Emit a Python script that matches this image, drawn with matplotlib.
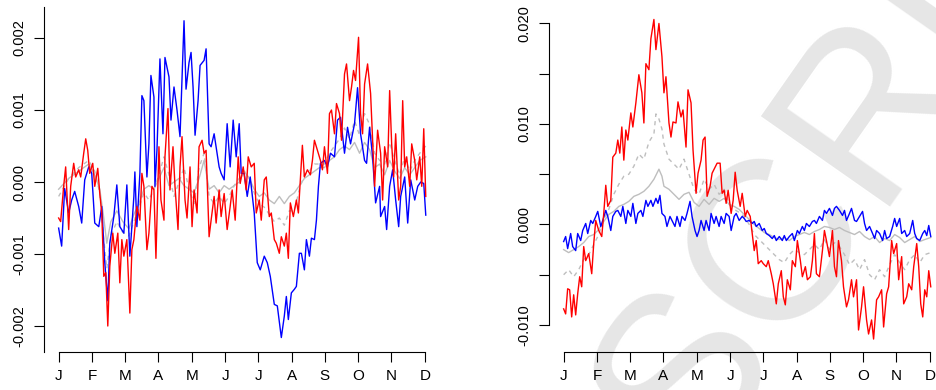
import numpy as np
import matplotlib.pyplot as plt

plt.rcParams['font.family'] = ['Liberation Sans', 'DejaVu Sans']
plt.rcParams['axes.unicode_minus'] = False

months = ["J", "F", "M", "A", "M", "J", "J", "A", "S", "O", "N", "D"]
year_days = 365

# left panel (values in units of 1e-3)
l_blue_d = [0, 3, 6, 10, 13, 16, 20, 23, 26, 30, 33, 36, 40, 43, 46, 49, 51, 55, 58, 61, 65, 68, 71, 75, 76, 78,
            81, 83, 85, 88, 90, 92, 95, 96, 98, 101, 104, 106, 110, 112, 115, 118, 121, 125, 127, 130, 132, 134,
            136, 139, 141, 145, 147, 150, 152, 155, 157, 160, 162, 165, 168, 171, 174, 177, 180, 182, 185, 188,
            191, 195, 198, 201, 205, 208, 211, 215, 218, 222, 225, 227, 229, 232, 235, 237, 240, 242, 245, 247,
            250, 252, 255, 257, 259, 261, 265, 268, 271, 275, 278, 281, 285, 288, 291, 295, 298, 301, 305, 307,
            310, 313, 316, 320, 321, 325, 327, 330, 333, 336, 339, 341, 345, 348, 351, 355, 358, 361, 364, 366]
l_blue_v = [-0.64, -0.89, -0.09, -0.43, -0.25, -0.13, -0.34, -0.57, 0.03, 0.21, 0.12, -0.57, -0.62, -0.34, -1.12,
            -1.65, -0.85, -0.48, -0.04, -0.62, -0.71, -0.04, -1.03, -0.20, 0.14, -0.62, 0.12, 1.20, 1.13, 0.07,
            0.53, 1.48, 1.18, -0.06, 0.44, 1.71, 0.67, 1.73, 1.46, 0.86, 1.32, 1.00, 0.63, 2.24, 1.29, 1.66, 1.80,
            1.32, 0.65, 1.13, 1.62, 1.69, 1.85, 0.53, 0.49, 0.67, 0.49, 0.21, 0.12, 0.03, 0.81, 0.21, 0.86, 0.35,
            0.81, 0.12, 0.12, -0.20, 0.07, -0.43, -1.12, -1.22, -1.03, -1.12, -1.31, -1.70, -1.72, -2.16, -1.86,
            -1.59, -1.91, -1.54, -1.49, -1.45, -0.99, -0.99, -1.22, -0.80, -1.03, -0.78, -0.80, -0.53, -0.06, 0.26,
            0.30, 0.21, 0.40, 0.35, 0.86, 0.90, 0.40, 0.76, 0.53, 0.81, 1.31, 0.67, 0.30, 0.26, 0.76, 0.35, -0.29,
            -0.06, -0.48, -0.34, -0.66, -0.06, 0.17, -0.25, -0.62, -0.20, 0.07, -0.57, 0.03, -0.25, -0.06, 0.00,
            -0.02, -0.46]

l_red_d = [0, 2, 5, 7, 10, 12, 15, 17, 20, 22, 25, 27, 29, 31, 34, 36, 39, 41, 43, 45, 47, 49, 51, 54, 56, 59, 61,
           63, 65, 68, 71, 73, 75, 78, 81, 83, 85, 88, 90, 93, 95, 97, 100, 102, 105, 106, 109, 111, 114, 116, 119,
           121, 123, 126, 128, 131, 133, 135, 138, 140, 143, 145, 147, 150, 152, 155, 157, 160, 162, 165, 168, 171,
           173, 176, 179, 181, 184, 187, 189, 192, 195, 197, 200, 202, 205, 207, 210, 212, 215, 217, 220, 222, 225,
           227, 229, 231, 234, 237, 239, 241, 243, 245, 248, 251, 253, 255, 258, 261, 263, 265, 268, 270, 272, 275,
           277, 280, 282, 285, 287, 290, 292, 294, 296, 299, 301, 303, 305, 308, 311, 313, 315, 318, 321, 323, 325,
           328, 330, 332, 334, 336, 339, 341, 343, 345, 347, 350, 352, 355, 357, 360, 362, 364, 366]
l_red_v = [-0.50, -0.55, -0.06, 0.21, -0.66, -0.06, 0.26, 0.07, 0.17, 0.07, 0.40, 0.60, 0.44, 0.12, 0.26, -0.06,
           0.19, -0.16, -0.43, -1.31, -1.26, -2.00, -1.17, -0.71, -0.99, -0.71, -1.40, -0.80, -1.03, -0.80, -1.82,
           -0.94, -0.80, -0.34, -0.53, 0.12, -0.06, -0.94, -0.71, -0.06, -0.11, -1.06, 0.49, -0.25, -0.53, 0.35,
           1.02, -0.11, 0.49, -0.06, -0.66, 0.21, 0.63, -0.25, -0.50, 0.21, -0.62, -0.11, -0.43, 0.49, 0.58, 0.40,
           0.44, -0.76, -0.53, -0.20, -0.57, -0.11, -0.48, -0.16, -0.66, -0.34, -0.11, -0.53, 0.35, -0.02, 0.21,
           -0.11, 0.35, 0.21, 0.26, -0.43, -0.25, -0.53, 0.03, 0.07, -0.48, -0.43, -0.80, -0.85, -0.99, -0.76,
           -0.89, -0.71, -1.06, -0.29, -0.48, -0.25, -0.43, 0.03, 0.51, 0.07, 0.17, 0.10, 0.30, 0.58, 0.44, 0.30,
           0.17, 0.49, 0.12, 0.95, 1.00, 0.67, 1.09, 0.95, 0.58, 1.50, 1.64, 1.13, 1.32, 1.55, 1.41, 2.01, 0.95,
           0.67, 1.36, 1.64, 1.23, 0.58, -0.06, 0.72, 0.40, -0.25, 0.49, 0.21, 1.27, 0.53, 0.07, 0.67, -0.25, -0.06,
           1.13, 0.21, 0.35, -0.06, 0.53, 0.30, 0.03, 0.35, -0.06, 0.74, -0.20]

l_grey_d = [0, 10, 20, 30, 36, 41, 45, 48, 52, 58, 64, 70, 75, 80, 85, 90, 95, 100, 105, 110, 115, 120, 125, 130,
            135, 140, 145, 150, 155, 160, 165, 170, 175, 180, 185, 190, 195, 200, 205, 210, 215, 220, 225, 230,
            235, 240, 245, 250, 255, 260, 265, 270, 275, 280, 285, 290, 295, 300, 305, 310, 315, 320, 325, 330,
            335, 340, 345, 350, 355, 360, 366]
l_grey_v = [-0.10, 0.05, 0.15, 0.25, 0.10, -0.10, -0.50, -0.85, -0.55, -0.40, -0.55, -0.65, -0.45, -0.30, -0.10,
            -0.05, -0.10, 0.05, 0.20, -0.05, 0.00, 0.05, -0.05, -0.10, -0.15, 0.05, 0.30, -0.10, -0.05, -0.15, -0.05,
            -0.10, -0.05, 0.00, 0.15, 0.05, -0.10, -0.20, -0.15, -0.25, -0.30, -0.20, -0.30, -0.20, -0.15, -0.05,
            0.05, 0.10, 0.15, 0.20, 0.20, 0.30, 0.35, 0.45, 0.50, 0.45, 0.55, 0.40, 0.55, 0.45, 0.20, 0.25, 0.10,
            0.30, 0.15, 0.05, 0.20, 0.10, 0.20, 0.30, 0.35]
l_dash_v = [-0.20, 0.05, 0.20, 0.30, 0.15, -0.15, -0.80, -1.20, -0.75, -0.55, -0.70, -0.75, -0.55, -0.35, -0.15,
            -0.25, -0.10, 0.10, 0.35, 0.10, -0.20, 0.00, 0.20, -0.10, -0.30, 0.20, 0.40, -0.20, -0.30, -0.20, -0.30,
            -0.20, -0.05, 0.05, 0.15, 0.05, -0.15, -0.30, -0.35, -0.45, -0.55, -0.50, -0.60, -0.40, -0.40, -0.10,
            0.10, 0.15, 0.25, 0.25, 0.25, 0.40, 0.50, 0.60, 0.75, 0.60, 0.85, 0.65, 0.95, 0.80, 0.40, 0.30, 0.25,
            0.55, 0.30, 0.10, 0.35, 0.15, 0.30, 0.40, 0.50]

# right panel (values in units of 1e-3)
r_red_d = [0, 2, 4, 6, 8, 10, 12, 14, 16, 18, 20, 22, 25, 28, 30, 32, 35, 38, 40, 42, 44, 47, 49, 52, 54, 56, 58,
           60, 62, 64, 67, 69, 72, 75, 78, 80, 82, 85, 87, 90, 92, 95, 98, 100, 102, 105, 107, 109, 112, 114, 117,
           119, 122, 124, 127, 129, 132, 134, 137, 139, 141, 143, 146, 148, 151, 153, 156, 158, 160, 162, 164, 167,
           169, 171, 173, 176, 178, 181, 183, 186, 188, 190, 192, 194, 197, 199, 202, 204, 207, 209, 212, 214, 217,
           219, 221, 223, 226, 228, 231, 233, 236, 238, 241, 243, 246, 248, 250, 252, 255, 258, 260, 262, 265, 268,
           270, 272, 274, 277, 279, 282, 284, 287, 289, 292, 294, 297, 299, 302, 304, 307, 309, 312, 314, 317, 319,
           322, 324, 327, 329, 332, 334, 337, 339, 342, 344, 347, 349, 352, 354, 356, 358, 360, 362, 364, 366]
r_red_v = [-8.4, -8.9, -6.4, -6.5, -9.2, -7.0, -9.0, -6.9, -5.2, -6.2, -2.2, -3.6, -2.9, -4.9, -1.9, 0.4, -0.6,
           -1.2, 1.1, 3.9, 1.8, 2.4, 6.7, 7.1, 8.4, 7.1, 9.7, 6.4, 9.4, 8.4, 11.1, 9.7, 12.1, 14.9, 13.1, 10.1, 16.0,
           15.4, 18.5, 20.4, 17.4, 20.0, 16.7, 13.1, 14.7, 10.1, 8.7, 10.2, 10.1, 12.2, 10.7, 11.4, 7.7, 13.4, 12.1,
           7.4, 3.1, 5.1, 6.4, 8.4, 8.7, 2.8, 3.8, 5.1, 5.7, 6.1, 6.1, 3.1, 3.4, 2.1, 3.4, 1.1, 2.4, 5.2, 3.4, 1.8,
           3.1, 0.8, 1.4, 0.8, -0.9, -2.6, -1.6, -3.9, -3.6, -3.9, -4.2, -3.6, -4.9, -5.9, -7.9, -5.9, -4.6, -7.2,
           -8.0, -5.5, -6.5, -3.6, -4.2, -1.6, -3.6, -5.2, -4.2, -5.5, -5.2, -3.6, -0.9, -4.9, -5.2, -2.6, -0.6,
           -1.6, -3.2, -0.6, -4.2, -5.2, -1.6, -3.6, -6.2, -8.2, -7.5, -5.5, -7.2, -5.5, -10.5, -8.2, -6.2, -9.5,
           -10.9, -9.5, -11.4, -7.5, -7.2, -6.5, -10.2, -6.9, -6.2, -1.6, -2.9, -1.9, -5.5, -3.2, -7.9, -7.2, -5.9,
           -6.5, -4.2, -1.9, -4.2, -7.9, -9.2, -6.5, -7.2, -4.6, -6.2]

r_blue_d = [0, 2, 4, 7, 9, 12, 14, 17, 19, 22, 24, 27, 29, 32, 34, 37, 39, 42, 44, 47, 49, 52, 54, 57, 59, 62, 64,
            67, 69, 72, 74, 77, 79, 82, 84, 87, 89, 92, 94, 96, 98, 101, 103, 106, 108, 111, 113, 116, 118, 121,
            123, 126, 128, 131, 133, 135, 137, 140, 142, 145, 147, 150, 152, 155, 157, 160, 162, 165, 167, 170, 172,
            175, 178, 180, 182, 185, 188, 190, 192, 195, 198, 200, 202, 205, 208, 210, 212, 215, 218, 220, 222,
            225, 228, 230, 233, 235, 238, 240, 242, 245, 248, 250, 252, 255, 258, 260, 262, 265, 268, 270, 272,
            275, 278, 280, 282, 285, 287, 290, 292, 295, 298, 300, 302, 305, 308, 310, 312, 315, 318, 320, 322,
            325, 328, 330, 332, 335, 337, 340, 342, 345, 348, 350, 352, 355, 358, 360, 362, 364, 366]
r_blue_v = [-1.7, -1.2, -2.4, -0.9, -2.2, -2.6, -0.9, -1.6, -0.6, 0.1, -0.9, 0.4, 0.1, 0.8, 1.3, -0.2, 0.4, 1.4,
            0.8, -0.6, 0.8, 1.3, 1.4, 0.8, 1.8, 0.1, 1.4, 0.8, 2.1, 0.1, 1.1, 1.4, 0.8, 2.4, 1.8, 2.4, 1.8, 2.6, 2.1,
            2.9, 1.1, 0.8, -0.2, 0.8, 0.4, -0.2, 0.8, -0.2, 0.8, 0.4, 1.1, 2.3, 0.8, -0.6, -1.2, -0.6, 0.4, -0.6,
            0.4, -0.6, 1.1, 0.1, 0.8, -0.2, 0.8, 0.1, 1.1, 0.8, -0.6, 0.8, 1.1, 0.4, 0.8, 0.6, 0.3, 0.4, 0.1, 0.3,
            -0.2, 0.1, -0.6, -0.4, -0.9, -1.1, -1.4, -1.1, -1.6, -1.2, -1.6, -1.1, -1.6, -1.2, -0.9, -1.6, -0.6,
            -0.9, -0.2, -0.6, 0.1, -0.2, 0.3, 0.4, 0.1, 0.8, 0.4, 1.4, 1.1, 1.6, 0.9, 1.6, 1.8, 1.4, 0.9, 1.4, 0.4,
            1.1, 1.6, 0.4, 0.3, 0.8, 1.3, 0.1, -0.6, -0.2, -0.9, -1.4, -0.6, -0.9, -1.6, -0.6, -1.4, -1.2, -0.2,
            0.6, -0.2, 0.6, -0.9, -0.6, -1.2, -0.9, 0.4, -0.9, -1.4, -1.6, -0.9, -0.6, -1.1, -0.1, -1.2]

r_grey_d = [0, 5, 10, 15, 20, 25, 30, 35, 40, 45, 50, 55, 60, 65, 70, 75, 80, 85, 90, 95, 98, 100, 105, 110, 115,
            120, 125, 130, 135, 140, 145, 150, 155, 160, 165, 170, 175, 180, 185, 190, 195, 200, 205, 210, 215, 220,
            225, 230, 235, 240, 245, 250, 255, 260, 265, 270, 275, 280, 285, 290, 295, 300, 305, 310, 315, 320,
            325, 330, 335, 340, 345, 350, 355, 360, 366]
r_grey_v = [-2.5, -2.8, -2.5, -2.2, -1.8, -1.2, -1.0, -0.5, 0.3, 1.0, 1.3, 1.8, 2.0, 2.3, 2.8, 3.0, 3.3, 3.8, 4.5,
            5.5, 4.8, 3.8, 3.5, 3.0, 2.5, 3.0, 3.2, 2.2, 1.8, 2.5, 2.0, 2.6, 2.3, 2.6, 2.0, 1.8, 1.5, 1.0, 0.5, 0.0,
            -0.4, -0.8, -1.0, -1.3, -1.5, -1.3, -1.6, -1.2, -1.0, -0.8, -1.0, -0.7, -0.5, -0.2, -0.3, -0.5, -0.3,
            -0.6, -0.8, -1.0, -0.7, -1.2, -1.5, -1.2, -1.8, -1.4, -1.6, -1.0, -1.3, -1.8, -1.5, -1.2, -1.7, -1.5,
            -1.3]

r_dash_d = [0, 5, 10, 15, 20, 25, 30, 35, 40, 45, 50, 55, 60, 65, 70, 75, 80, 85, 90, 92, 95, 98, 100, 105, 110,
            115, 120, 125, 130, 135, 140, 145, 150, 155, 160, 165, 170, 175, 180, 185, 190, 195, 200, 205, 210, 215,
            220, 225, 230, 235, 240, 245, 250, 255, 260, 265, 270, 275, 280, 285, 290, 295, 300, 305, 310, 315,
            320, 325, 330, 335, 340, 345, 350, 355, 360, 366]
r_dash_v = [-5.0, -4.5, -5.2, -4.5, -3.5, -3.0, -2.0, -1.0, 0.5, 1.5, 3.0, 4.0, 4.8, 5.0, 5.8, 7.0, 6.5, 8.2, 9.0,
            11.0, 10.5, 9.5, 8.0, 6.5, 6.0, 5.5, 6.5, 5.0, 3.5, 3.0, 4.5, 3.5, 4.0, 3.0, 3.5, 2.0, 1.5, 1.2, 0.8,
            0.0, -1.0, -1.5, -2.0, -2.5, -3.0, -3.5, -3.8, -3.0, -2.5, -2.8, -3.0, -2.5, -2.0, -2.5, -1.5, -2.5,
            -1.8, -2.2, -3.0, -4.0, -3.5, -4.5, -3.5, -5.0, -5.5, -4.5, -5.2, -4.0, -3.0, -3.8, -4.5, -3.5, -3.0,
            -3.8, -3.0, -2.8]

W, H = 936, 390
fig = plt.figure(figsize=(W / 100, H / 100), dpi=100)

# watermark, sits behind the plotted lines
fig.text(885 / W, 1 - 95 / H, "SCRIPT", fontsize=165, color="#e6e6e6", rotation=55,
         ha="center", va="center", zorder=0)

ax1 = fig.add_axes([44 / W, 1 - 352 / H, 395.4 / W, 345 / H])
ax2 = fig.add_axes([549 / W, 1 - 352 / H, 395.4 / W, 345 / H])


def draw(ax, grey_d, grey_v, dash_d, dash_v, red_d, red_v, blue_d, blue_v):
    s = 1e-3
    ax.plot(dash_d, np.array(dash_v) * s, color="#bebebe", lw=1.0, dashes=(3, 3))
    ax.plot(grey_d, np.array(grey_v) * s, color="#bebebe", lw=1.0)
    ax.plot(blue_d, np.array(blue_v) * s, color="#0000ff", lw=1.0)
    ax.plot(red_d, np.array(red_v) * s, color="#ff0000", lw=1.0)
    ax.set_zorder(1)
    ax.set_facecolor("none")
    ax.set_xlim(-0.04 * year_days, 1.04 * year_days)
    ax.set_xticks(np.linspace(0, year_days, 12))
    ax.set_xticklabels(months, fontsize=11)
    ax.spines["top"].set_visible(False)
    ax.spines["right"].set_visible(False)
    ax.spines["bottom"].set_bounds(0, year_days)
    ax.tick_params(axis="x", length=7, width=0.8, pad=5)
    ax.tick_params(axis="y", length=7, width=0.8, pad=6, labelsize=10.5)


draw(ax1, l_grey_d, l_grey_v, l_grey_d, l_dash_v, l_red_d, l_red_v, l_blue_d, l_blue_v)
ax1.set_ylim(-0.002361, 0.002431)
ax1.set_yticks([-0.002, -0.001, 0.0, 0.001, 0.002])
ax1.set_yticklabels(["-0.002", "-0.001", "0.000", "0.001", "0.002"], rotation=90, va="center")

draw(ax2, r_grey_d, r_grey_v, r_dash_d, r_dash_v, r_red_d, r_red_v, r_blue_d, r_blue_v)
ax2.set_ylim(-0.01269, 0.02164)
ax2.set_yticks([-0.010, -0.005, 0.0, 0.005, 0.010, 0.015, 0.020])
ax2.set_yticklabels(["-0.010", "", "0.000", "", "0.010", "", "0.020"], rotation=90, va="center")
ax2.spines["left"].set_bounds(-0.010, 0.020)

for ax in (ax1, ax2):
    ax.spines["left"].set_linewidth(0.8)
    ax.spines["bottom"].set_linewidth(0.8)

fig.savefig("out.png", dpi=100)
